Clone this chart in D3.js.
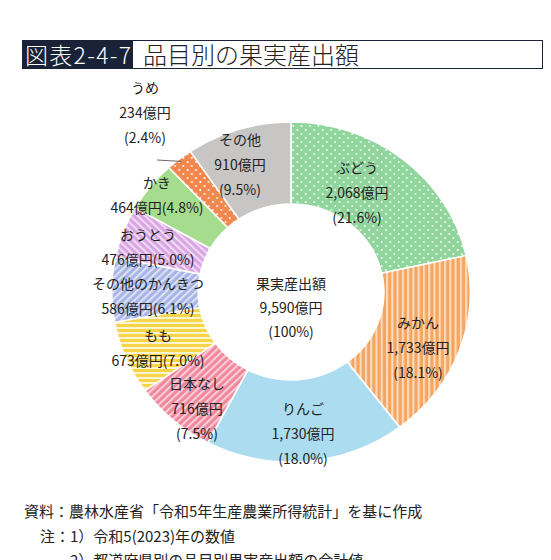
<!DOCTYPE html><html><head><meta charset="utf-8"><script src="https://cdn.jsdelivr.net/npm/d3@7"></script>
<style>body{margin:0;background:#fff}text{font-family:"Noto Sans CJK JP",sans-serif;fill:#222}</style></head><body>
<svg id="c" width="551" height="560"></svg>
<script>
const categories=["ぶどう","みかん","りんご","日本なし","もも","その他のかんきつ","おうとう","かき","うめ","その他"];
const values=[2068,1733,1730,716,673,586,476,464,234,910];
const percents=["21.6%","18.1%","18.0%","7.5%","7.0%","6.1%","5.0%","4.8%","2.4%","9.5%"];
const total=9590;
const colors=["#8fd59c","#f6a55e","#acdcf0","#f0879c","#f8d548","#a7b5e6","#d9a6e3","#a6dc8e","#f2884e","#c8c6c4"];
const patterns=["dots","vstripe","none","diag","hstripe","diag","diag2","none","dots","none"];
const labelPos=[[357,173,3],[418,328,3],[303,414,3],[197,389,3],[158,341,2],[148,289,2],[148,240,2],[157,188,2],[145,93,3],[240,145,3]];
const svg=d3.select("#c");
const defs=svg.append("defs");
patterns.forEach((p,i)=>{
  if(p==="none")return;
  const pt=defs.append("pattern").attr("id","p"+i).attr("patternUnits","userSpaceOnUse");
  if(p==="dots"){pt.attr("width",8).attr("height",8);pt.append("rect").attr("width",8).attr("height",8).attr("fill",colors[i]);
    pt.append("circle").attr("cx",2).attr("cy",2).attr("r",0.9).attr("fill","#fff");pt.append("circle").attr("cx",6).attr("cy",6).attr("r",0.9).attr("fill","#fff");}
  else{pt.attr("width",5).attr("height",5);
    if(p==="diag")pt.attr("patternTransform","rotate(45)");
    if(p==="diag2")pt.attr("patternTransform","rotate(-45)");
    pt.append("rect").attr("width",5).attr("height",5).attr("fill",colors[i]);
    if(p==="hstripe")pt.append("rect").attr("width",5).attr("height",2).attr("fill","#fff").attr("opacity",0.75);
    else pt.append("rect").attr("width",2).attr("height",5).attr("fill","#fff").attr("opacity",0.6);}
});
const cx=291,cy=292,sx=1.055;
const pie=d3.pie().sort(null).value(d=>d)(values);
const arc=d3.arc().innerRadius(88).outerRadius(170);
const g=svg.append("g").attr("transform",`translate(${cx},${cy}) scale(${sx},1)`);
g.selectAll("path").data(pie).join("path").attr("d",arc)
 .attr("fill",(d,i)=>patterns[i]==="none"?colors[i]:`url(#p${i})`).attr("stroke","#fff").attr("stroke-width",1.5);
const um=pie[8];const ang=(um.startAngle+um.endAngle)/2;
svg.append("line").attr("x1",157).attr("y1",160).attr("x2",cx+Math.sin(ang)*167*sx).attr("y2",cy-Math.cos(ang)*167).attr("stroke","#444").attr("stroke-width",0.8);
const fmt=d3.format(",");
categories.forEach((c,i)=>{
  const [x,y,m]=labelPos[i];
  const t=svg.append("text").attr("text-anchor","middle").attr("font-size",14);
  let lines=m===3?[c,fmt(values[i])+"億円","("+percents[i]+")"]:[c,fmt(values[i])+"億円("+percents[i]+")"];
  lines.forEach((l,k)=>t.append("tspan").attr("x",x).attr("y",y+k*25).text(l));
});
const ct=svg.append("text").attr("text-anchor","middle").attr("font-size",14);
["果実産出額",fmt(total)+"億円","(100%)"].forEach((l,k)=>ct.append("tspan").attr("x",cx).attr("y",289+k*24).text(l));
svg.append("rect").attr("x",22.5).attr("y",40.5).attr("width",520).attr("height",28).attr("fill","#fff").attr("stroke","#1a2238");
svg.append("rect").attr("x",22).attr("y",40).attr("width",111).attr("height",29).attr("fill","#1a2238");
svg.append("text").attr("x",25).attr("y",64).attr("font-size",23).attr("font-weight",300).attr("textLength",106).style("fill","#fff").text("図表2-4-7");
svg.append("text").attr("x",143).attr("y",64).attr("font-size",24).attr("font-weight",300).text("品目別の果実産出額");
svg.append("text").attr("x",24).attr("y",517).attr("font-size",15).text("資料：農林水産省「令和5年生産農業所得統計」を基に作成");
svg.append("text").attr("x",40).attr("y",542).attr("font-size",15).text("注：1）令和5(2023)年の数値");
svg.append("text").attr("x",70).attr("y",566).attr("font-size",15).text("2）都道府県別の品目別果実産出額の合計値");
</script></body></html>
